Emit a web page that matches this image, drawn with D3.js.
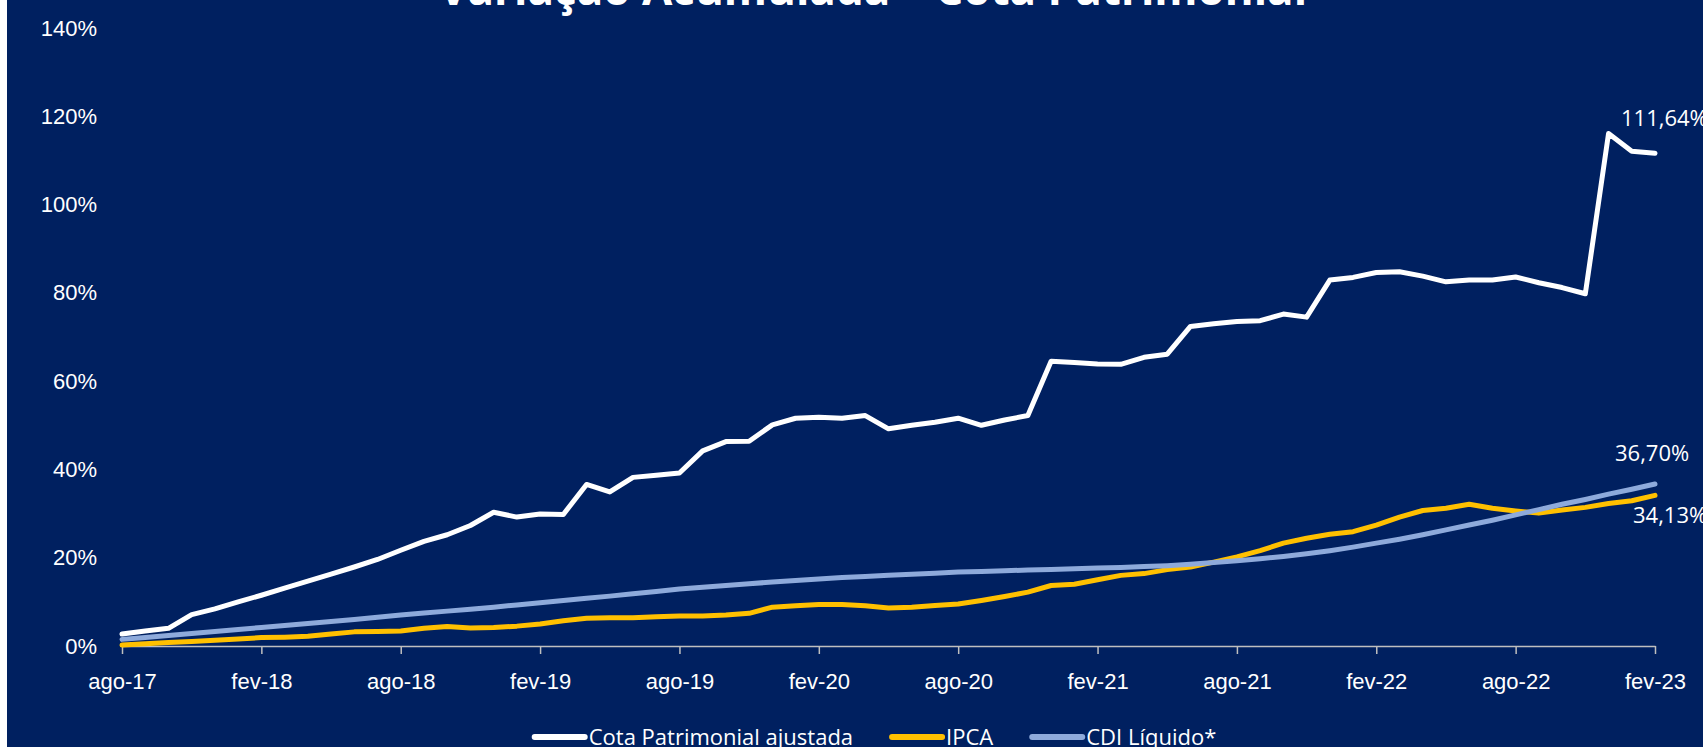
<!DOCTYPE html>
<html>
<head>
<meta charset="utf-8">
<title>Variação Acumulada – Cota Patrimonial</title>
<style>
  body { margin: 0; background: #fff; }
  svg { display: block; font-family: "Open Sans", "Noto Sans", sans-serif; }
  .axis text { font-size: 22px; fill: #fff; }
  .axis path, .axis line { stroke: #bfbfbf; stroke-width: 1.5px; }
  .serie { fill: none; stroke-width: 5px; stroke-linejoin: round; stroke-linecap: round; }
</style>
</head>
<body>
<svg width="1703" height="747"></svg>
<script src="https://cdn.jsdelivr.net/npm/d3@7"></script>
<script>
// meses de ago-17 a fev-23 (índice 0..66)
var xTickLabels = ["ago-17", "fev-18", "ago-18", "fev-19", "ago-19", "fev-20",
                   "ago-20", "fev-21", "ago-21", "fev-22", "ago-22", "fev-23"];
var yTicks = [0, 20, 40, 60, 80, 100, 120, 140];

var cota = [2.7, 3.4, 4.0, 7.1, 8.4, 10.0, 11.5, 13.1, 14.7, 16.3, 17.9, 19.6,
            21.7, 23.7, 25.2, 27.3, 30.3, 29.2, 29.9, 29.8, 36.6, 34.9, 38.2, 38.7,
            39.2, 44.2, 46.3, 46.4, 50.1, 51.6, 51.8, 51.6, 52.2, 49.2, 50.0, 50.7,
            51.6, 50.0, 51.2, 52.2, 64.5, 64.2, 63.9, 63.8, 65.4, 66.1, 72.4, 73.0,
            73.5, 73.7, 75.2, 74.5, 82.9, 83.5, 84.6, 84.8, 83.8, 82.5, 82.9, 82.9,
            83.6, 82.3, 81.2, 79.8, 116.1, 112.1, 111.64];

var ipca = [0.2, 0.5, 0.8, 1.0, 1.3, 1.6, 1.9, 2.0, 2.2, 2.7, 3.2, 3.3,
            3.4, 4.0, 4.4, 4.1, 4.2, 4.5, 5.0, 5.7, 6.3, 6.4, 6.4, 6.6,
            6.8, 6.8, 7.0, 7.4, 8.8, 9.1, 9.4, 9.4, 9.1, 8.6, 8.8, 9.2,
            9.5, 10.3, 11.2, 12.2, 13.7, 14.0, 15.0, 16.0, 16.4, 17.3, 17.9, 19.0,
            20.2, 21.6, 23.3, 24.4, 25.3, 25.9, 27.4, 29.2, 30.7, 31.2, 32.1, 31.2,
            30.6, 30.1, 30.8, 31.4, 32.3, 32.9, 34.13];

var cdi = [1.5, 1.95, 2.4, 2.85, 3.3, 3.75, 4.2, 4.65, 5.1, 5.55, 6.0, 6.5,
           7.0, 7.45, 7.9, 8.35, 8.8, 9.3, 9.8, 10.3, 10.8, 11.3, 11.85, 12.35,
           12.9, 13.3, 13.7, 14.1, 14.5, 14.85, 15.2, 15.5, 15.75, 16.0, 16.25, 16.5,
           16.75, 16.9, 17.05, 17.2, 17.35, 17.5, 17.65, 17.8, 18.0, 18.2, 18.5, 18.9,
           19.3, 19.75, 20.3, 20.9, 21.6, 22.4, 23.3, 24.2, 25.2, 26.3, 27.4, 28.5,
           29.7, 30.9, 32.1, 33.2, 34.4, 35.5, 36.7];

var series = [
  {name: "Cota Patrimonial ajustada", values: cota, color: "#ffffff", label: "111,64%", dx: -34, dy: -27},
  {name: "IPCA", values: ipca, color: "#ffc000", label: "34,13%", dx: -22, dy: 28},
  {name: "CDI Líquido*", values: cdi, color: "#8eaadb", label: "36,70%", dx: -40, dy: -23}
];

var svg = d3.select("svg");

svg.append("rect").attr("width", 1703).attr("height", 747).attr("fill", "#fff");
svg.append("rect").attr("x", 7).attr("width", 1696).attr("height", 747).attr("fill", "#002060");

var x = d3.scaleLinear().domain([0, 66]).range([122, 1655]);
var y = d3.scaleLinear().domain([0, 140]).range([646, 28]);

// titulo (cortado no topo como no original)
svg.append("text")
    .attr("x", 873)
    .attr("y", 5)
    .attr("text-anchor", "middle")
    .attr("font-size", 44)
    .attr("font-weight", "bold")
    .attr("fill", "#fff")
    .text("Variação Acumulada – Cota Patrimonial");

// eixo x
svg.append("g")
    .attr("class", "axis")
    .attr("transform", "translate(0," + y(0) + ")")
    .call(d3.axisBottom(x)
      .tickValues(d3.range(0, 67, 6))
      .tickFormat(function(d, i) { return xTickLabels[i]; })
      .tickSize(8)
      .tickSizeOuter(0)
      .tickPadding(19));

// eixo y (apenas rótulos)
var yAxis = svg.append("g")
    .attr("class", "axis")
    .attr("transform", "translate(122,0)")
    .call(d3.axisLeft(y).tickValues(yTicks)
      .tickFormat(function(d) { return d + "%"; })
      .tickSize(0).tickPadding(25));
yAxis.select(".domain").remove();

var line = d3.line()
    .x(function(d, i) { return x(i); })
    .y(function(d) { return y(d); });

// ordem de desenho: IPCA, CDI, Cota por cima
[series[1], series[2], series[0]].forEach(function(s) {
  svg.append("path")
      .attr("class", "serie")
      .attr("d", line(s.values))
      .attr("stroke", s.color);
});

series.forEach(function(s) {
  var last = s.values.length - 1;
  svg.append("text")
      .attr("x", x(last))
      .attr("y", y(s.values[last]))
      .attr("dx", s.dx)
      .attr("dy", s.dy)
      .attr("font-size", 22)
      .attr("fill", "#fff")
      .text(s.label);
});

// legenda
var legend = svg.append("g").attr("font-size", 22);
var lx = 0;
series.forEach(function(s) {
  var g = legend.append("g").attr("transform", "translate(" + lx + ",0)");
  g.append("line")
      .attr("x1", 3).attr("x2", 53)
      .attr("y1", 0).attr("y2", 0)
      .attr("stroke", s.color)
      .attr("stroke-width", 6)
      .attr("stroke-linecap", "round");
  var t = g.append("text")
      .attr("x", 57)
      .attr("dy", "0.35em")
      .attr("fill", "#fff")
      .text(s.name);
  lx += 57 + t.node().getComputedTextLength() + 36;
});
lx -= 36;
legend.attr("transform", "translate(" + (874 - lx / 2) + ",737)");
</script>
</body>
</html>
